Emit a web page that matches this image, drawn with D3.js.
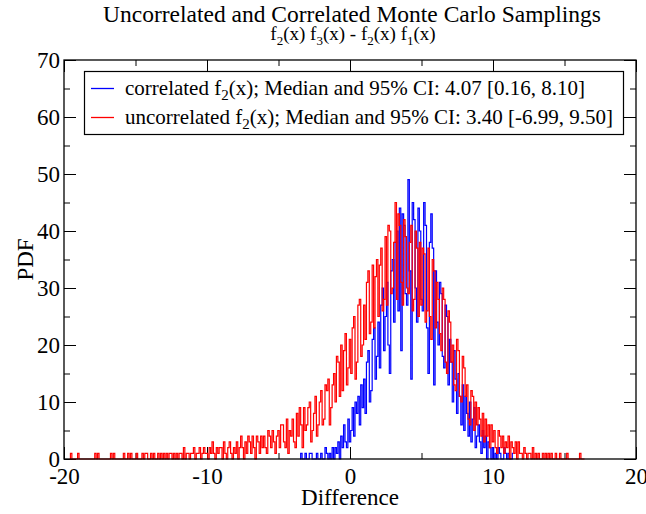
<!DOCTYPE html>
<html>
<head>
<meta charset="utf-8">
<script src="https://cdn.jsdelivr.net/npm/d3@7"></script>
<style>
  body { margin: 0; background: #fff; }
  text { font-family: "Liberation Serif", "Times New Roman", serif; fill: #000; }
</style>
</head>
<body>
<svg width="646" height="514"></svg>
<script>
// histogram bins (bin centre of the first value, bin width)
var binWidth = 0.1;
var correlatedStart = -3.5;
var uncorrelatedStart = -19.6;

// correlated f2(x), PDF per bin
var correlated = [
  0,1,0,0,1,
  0,0,1,1,0,0,0,1,0,0,
  1,0,0,2,1,0,1,0,2,0,
  2,1,3,0,4,2,6,3,2,7,
  3,5,9,4,10,8,11,6,13,9,
  14,8,17,19,10,12,21,23,14,18,
  24,16,27,30,19,25,31,20,15,33,
  35,24,38,40,26,44,19,43,41,29,
  27,49,33,14,45,42,30,24,44,40,
  28,26,45,41,23,15,38,43,37,13,
  33,24,20,31,29,18,16,27,25,13,
  21,17,10,19,14,8,15,11,6,13,
  5,11,8,4,10,3,7,9,2,4,
  6,3,1,5,2,4,0,3,2,0,
  2,0,1,0,2,1,0,0,2,1,
  0,1,0,0,1
];

// uncorrelated f2(x)
var uncorrelated = [
  0,1,0,0,0,0,
  1,0,0,0,0,0,0,0,0,0,
  0,0,1,0,1,0,0,0,0,0,
  0,0,0,1,0,1,0,0,0,0,
  0,0,1,0,0,1,0,1,0,0,
  0,1,0,0,0,1,0,1,1,0,
  0,1,0,1,0,0,1,0,1,0,
  1,0,1,0,1,1,0,1,0,1,
  0,1,1,0,2,0,1,1,0,1,
  1,2,0,1,1,2,0,1,2,1,
  1,0,2,1,3,1,0,2,1,2,
  2,0,3,1,0,2,3,1,0,2,
  1,3,0,2,4,2,0,3,1,4,
  3,1,4,2,0,4,3,1,4,2,
  4,2,1,5,4,2,5,3,1,4,
  5,2,6,6,3,2,7,1,5,4,
  7,3,2,8,4,9,6,2,9,5,
  6,9,10,3,5,8,11,4,6,10,
  12,6,7,13,12,14,6,9,13,15,
  10,18,17,11,20,12,19,22,13,16,
  21,15,23,25,14,17,27,28,18,20,
  27,21,31,33,22,24,34,23,32,35,
  25,34,37,26,28,39,27,41,40,29,
  30,38,45,28,43,41,31,27,42,39,
  30,29,38,41,26,28,40,37,25,38,
  27,37,36,24,26,37,25,21,35,33,
  23,31,28,22,19,30,28,17,15,26,
  24,17,20,13,12,21,19,11,10,18,
  16,11,13,7,6,12,11,5,10,6,
  9,7,4,8,3,7,4,6,2,6,
  3,5,2,1,5,4,2,4,1,3,
  2,4,0,3,2,1,3,0,3,1,
  1,0,2,1,0,1,1,0,2,0,
  1,0,1,0,0,1,0,1,0,1,
  0,1,0,0,1,0,0,1,0,0,
  0,0,1,0,0,0,0,0,0,0,
  0,1,0,0,0
];

var xMajor = [-20, -10, 0, 10, 20];
var xMinor = [-15, -5, 5, 15];
var yMajor = [0, 10, 20, 30, 40, 50, 60, 70];
var yMinor = [5, 15, 25, 35, 45, 55, 65];

var legendLabels = [
  {color: "#0000ff", pre: "correlated f", sub: "2", post: "(x); Median and 95% CI: 4.07 [0.16, 8.10]"},
  {color: "#ff0000", pre: "uncorrelated f", sub: "2", post: "(x); Median and 95% CI: 3.40 [-6.99, 9.50]"}
];

var svg = d3.select("svg"),
    width = +svg.attr("width"),
    height = +svg.attr("height");

// plot frame (note: "top" is reserved on window)
var pLeft = 64, pRight = 636, pTop = 60, pBottom = 459;

var x = d3.scaleLinear().domain([-20, 20]).range([pLeft, pRight]);
var y = d3.scaleLinear().domain([0, 70]).range([pBottom, pTop]);

var plain = function(d) { return String(d); };

// ticks point inward on all four sides
function ticks(axis, values, size, fmt, pad) {
  return axis.tickValues(values).tickSize(-size).tickPadding(pad).tickFormat(fmt);
}

svg.append("g").attr("transform", "translate(0," + pBottom + ")")
  .call(ticks(d3.axisBottom(x), xMajor, 12, plain, 9));
svg.append("g").attr("transform", "translate(0," + pBottom + ")")
  .call(ticks(d3.axisBottom(x), xMinor, 6, "", 0));
svg.append("g").attr("transform", "translate(0," + pTop + ")")
  .call(ticks(d3.axisTop(x), xMajor, 12, "", 0));
svg.append("g").attr("transform", "translate(0," + pTop + ")")
  .call(ticks(d3.axisTop(x), xMinor, 6, "", 0));
svg.append("g").attr("transform", "translate(" + pLeft + ",0)")
  .call(ticks(d3.axisLeft(y), yMajor, 12, plain, 4));
svg.append("g").attr("transform", "translate(" + pLeft + ",0)")
  .call(ticks(d3.axisLeft(y), yMinor, 6, "", 0));
svg.append("g").attr("transform", "translate(" + pRight + ",0)")
  .call(ticks(d3.axisRight(y), yMajor, 12, "", 0));
svg.append("g").attr("transform", "translate(" + pRight + ",0)")
  .call(ticks(d3.axisRight(y), yMinor, 6, "", 0));

svg.selectAll(".domain").remove();
svg.selectAll(".tick line").attr("stroke", "#000");
svg.selectAll(".tick text")
  .attr("font-size", 23)
  .attr("font-family", "Liberation Serif, serif");

// the two histograms, drawn as stepped lines through the bin values
function drawSeries(values, start, color) {
  var line = d3.line()
    .curve(d3.curveStep)
    .x(function(d, i) { return x(start + i * binWidth); })
    .y(function(d) { return y(d); });
  svg.append("path")
    .datum(values)
    .attr("fill", "none")
    .attr("stroke", color)
    .attr("stroke-width", 1.2)
    .attr("d", line);
}
drawSeries(correlated, correlatedStart, "#0000ff");
drawSeries(uncorrelated, uncorrelatedStart, "#ff0000");

// frame
svg.append("rect")
  .attr("x", pLeft).attr("y", pTop)
  .attr("width", pRight - pLeft).attr("height", pBottom - pTop)
  .attr("fill", "none").attr("stroke", "#000").attr("stroke-width", 1.3);

// legend
var lg = svg.append("g");
lg.append("rect")
  .attr("x", 84.5).attr("y", 71.5).attr("width", 539).attr("height", 63)
  .attr("fill", "#fff").attr("stroke", "#000").attr("stroke-width", 1.2);

legendLabels.forEach(function(d, i) {
  var ly = 88.5 + i * 29;
  lg.append("line")
    .attr("x1", 91).attr("x2", 114).attr("y1", ly).attr("y2", ly)
    .attr("stroke", d.color).attr("stroke-width", 1.3);
  var t = lg.append("text").attr("x", 125).attr("y", ly + 6).attr("font-size", 21);
  t.append("tspan").text(d.pre);
  t.append("tspan").attr("font-size", 15).attr("dy", 5).text(d.sub);
  t.append("tspan").attr("dy", -5).text(d.post);
});

// titles
svg.append("text")
  .attr("x", 352).attr("y", 22)
  .attr("text-anchor", "middle").attr("font-size", 23.5)
  .text("Uncorrelated and Correlated Monte Carlo Samplings");

var sub = svg.append("text")
  .attr("x", 353).attr("y", 40)
  .attr("text-anchor", "middle").attr("font-size", 19);
[["f", "2", "(x) "], ["f", "3", "(x) - "], ["f", "2", "(x) "], ["f", "1", "(x)"]].forEach(function(p) {
  sub.append("tspan").text(p[0]);
  sub.append("tspan").attr("font-size", 13).attr("dy", 5).text(p[1]);
  sub.append("tspan").attr("dy", -5).text(p[2]);
});

svg.append("text")
  .attr("x", (pLeft + pRight) / 2).attr("y", 505)
  .attr("text-anchor", "middle").attr("font-size", 23)
  .text("Difference");

svg.append("text")
  .attr("transform", "translate(33," + (pTop + pBottom) / 2 + ") rotate(-90)")
  .attr("text-anchor", "middle").attr("font-size", 23)
  .text("PDF");
</script>
</body>
</html>
